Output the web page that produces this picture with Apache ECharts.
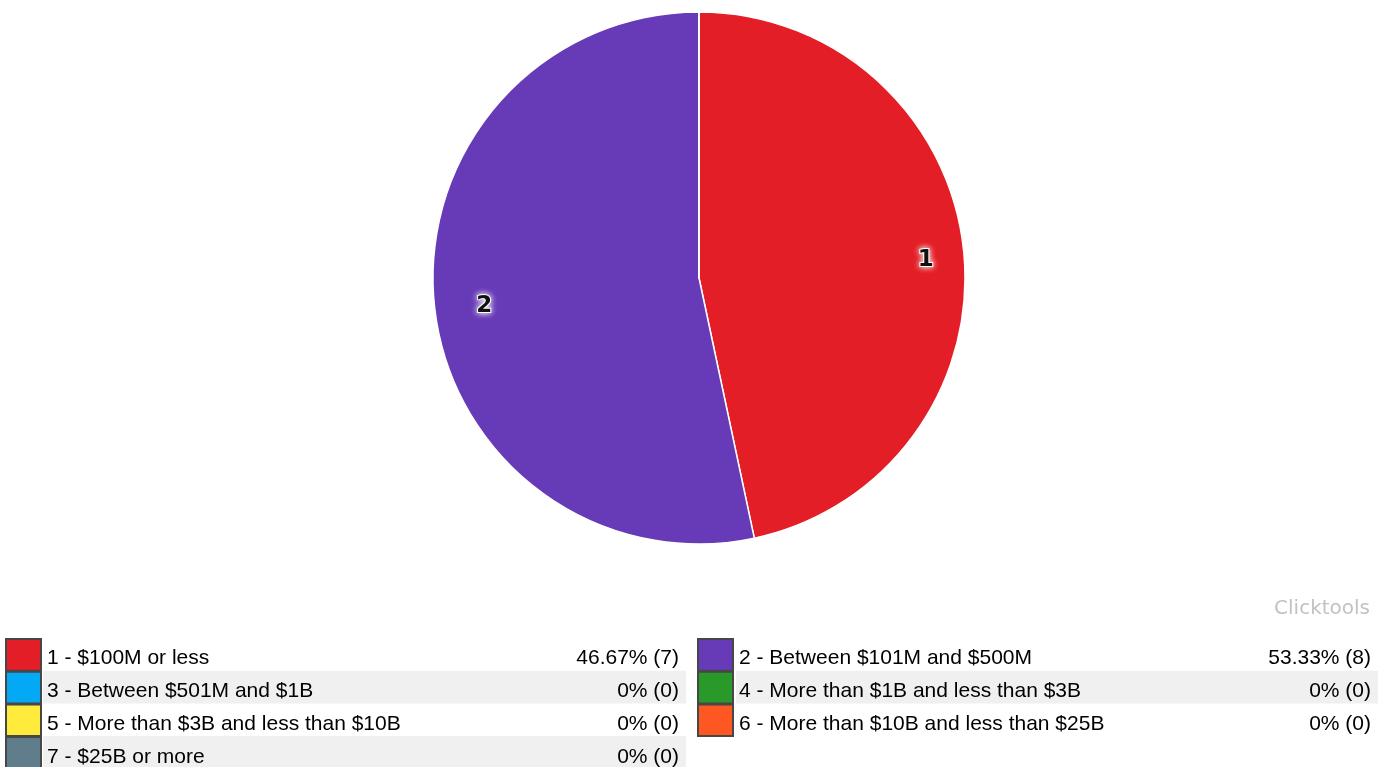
<!DOCTYPE html>
<html>
<head>
<meta charset="utf-8">
<style>
  html, body { margin: 0; padding: 0; background: #fff; }
  #chart { width: 1387px; height: 767px; }
</style>
<script src="https://cdn.jsdelivr.net/npm/echarts@6/dist/echarts.min.js"></script>
</head>
<body>
<div id="chart"></div>
<script>
// Survey answers: revenue bands and response counts
const codes = ['1', '2', '3', '4', '5', '6', '7'];
const bands = [
  '$100M or less',
  'Between $101M and $500M',
  'Between $501M and $1B',
  'More than $1B and less than $3B',
  'More than $3B and less than $10B',
  'More than $10B and less than $25B',
  '$25B or more'
];
const counts = [7, 8, 0, 0, 0, 0, 0];
const colors = ['#e31e26', '#673ab7', '#03a9f4', '#299a29', '#ffeb3b', '#ff5722', '#607d8b'];

const total = counts.reduce((a, b) => a + b, 0);
const pctText = v => (v === 0 ? '0' : (v / total * 100).toFixed(2)) + '% (' + v + ')';

const pieData = codes.map((c, i) => ({
  name: c,
  value: counts[i],
  itemStyle: { color: colors[i] }
}));

// Legend table: two columns, rows alternate white / light grey
const rowTop = 638, rowH = 32.7;
const cols = [
  { swatchX: 6, textX: 47, valueX: 679, bgX: 43, bgW: 643 },
  { swatchX: 698, textX: 739, valueX: 1371, bgX: 736, bgW: 642 }
];
const cellText = {
  fill: '#000',
  fontFamily: 'Liberation Sans',
  fontSize: 21,
  verticalAlign: 'middle'
};
const legendGraphics = [];
codes.forEach((c, i) => {
  const row = Math.floor(i / 2);
  const col = cols[i % 2];
  const y = rowTop + row * rowH;
  if (row % 2 === 1) {
    legendGraphics.push({
      type: 'rect', silent: true,
      shape: { x: col.bgX, y: y, width: col.bgW, height: rowH },
      style: { fill: '#f0f0f0' }
    });
  }
  legendGraphics.push({
    type: 'rect', silent: true,
    shape: { x: col.swatchX, y: y + 1, width: 35, height: rowH - 1 },
    style: { fill: colors[i], stroke: '#474747', lineWidth: 2 }
  });
  legendGraphics.push({
    type: 'text', silent: true, x: col.textX, y: y + 20.7,
    style: Object.assign({ text: c + ' - ' + bands[i], align: 'left' }, cellText)
  });
  legendGraphics.push({
    type: 'text', silent: true, x: col.valueX, y: y + 20.7,
    style: Object.assign({ text: pctText(counts[i]), align: 'right' }, cellText)
  });
});
legendGraphics.push({
  type: 'text', silent: true, x: 1370, y: 609,
  style: {
    text: 'Clicktools', fill: '#c2c2c2',
    fontFamily: 'DejaVu Sans', fontSize: 20,
    verticalAlign: 'middle', align: 'right'
  }
});

const chart = echarts.init(document.getElementById('chart'), null, { renderer: 'canvas' });
chart.setOption({
  backgroundColor: '#ffffff',
  animation: false,
  graphic: legendGraphics,
  series: [
    {
      type: 'pie',
      center: [699, 278],
      radius: [0, 266],
      startAngle: 90,
      clockwise: true,
      stillShowZeroSum: false,
      silent: true,
      label: { show: false },
      labelLine: { show: false },
      itemStyle: { borderColor: '#ffffff', borderWidth: 1.5 },
      data: pieData
    },
    {
      // label ring: places slice numbers toward the rim
      type: 'pie',
      center: [699, 278],
      radius: [172, 266],
      startAngle: 90,
      clockwise: true,
      silent: true,
      itemStyle: { color: 'rgba(0,0,0,0)' },
      label: {
        show: true,
        position: 'inside',
        offset: [6, 5],
        formatter: p => (p.value > 0 ? p.name : ''),
        color: '#111',
        fontFamily: 'DejaVu Sans',
        fontWeight: 'bold',
        fontSize: 23,
        textBorderColor: '#ffffff',
        textBorderWidth: 2,
        textShadowColor: '#ffffff',
        textShadowBlur: 6
      },
      labelLine: { show: false },
      data: codes.map((c, i) => ({ name: c, value: counts[i] }))
    }
  ]
});
</script>
</body>
</html>
